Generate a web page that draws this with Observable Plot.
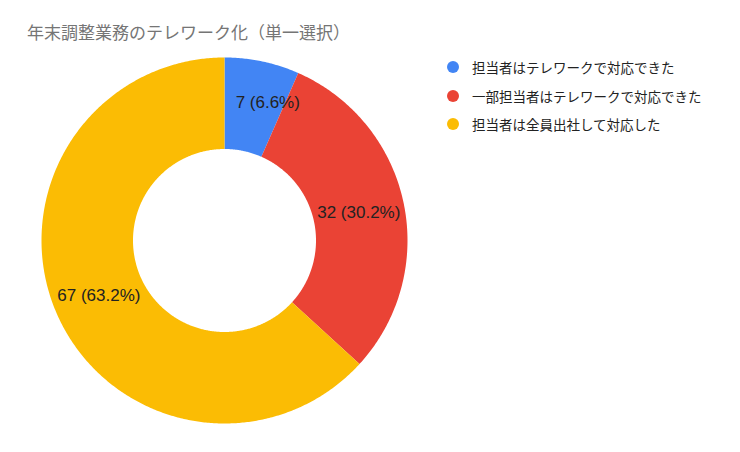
<!DOCTYPE html>
<html>
<head>
<meta charset="utf-8">
<script src="https://cdn.jsdelivr.net/npm/d3@7"></script>
<script src="https://cdn.jsdelivr.net/npm/@observablehq/plot@0.6"></script>
<style>
  html, body { margin: 0; padding: 0; background: #fff; }
  #wrap { position: relative; width: 740px; height: 452px; overflow: hidden; font-family: "Noto Sans CJK JP", "Noto Sans", sans-serif; }
  #title { position: absolute; left: 27px; top: 19px; font-size: 17px; color: #757575; white-space: nowrap; }
  #legend { position: absolute; left: 447px; top: 53px; }
  .item { display: flex; align-items: center; height: 28.5px; font-size: 13.5px; color: #222; white-space: nowrap; }
  .sw { width: 12px; height: 12px; border-radius: 50%; margin-right: 13px; }
  #chart { position: absolute; left: 0; top: 0; }
</style>
</head>
<body>
<div id="wrap">
  <div id="chart"></div>
  <div id="title"></div>
  <div id="legend"></div>
</div>
<script>
const title = "年末調整業務のテレワーク化（単一選択）";
const categories = ["担当者はテレワークで対応できた", "一部担当者はテレワークで対応できた", "担当者は全員出社して対応した"];
const values = [7, 32, 67];
const colors = ["#4285F4", "#EA4335", "#FBBC04"];

const data = categories.map((c, i) => ({category: c, value: values[i]}));
const total = d3.sum(values);
const pct = d3.format(".1%");
const arcs = d3.pie().sort(null).value(d => d.value)(data);

const inner = 0.5;
function ring(a0, a1) {
  const n = Math.max(2, Math.ceil((a1 - a0) / (Math.PI / 360)));
  const pts = [];
  for (let k = 0; k <= n; k++) { const a = a0 + (a1 - a0) * k / n; pts.push([Math.sin(a), -Math.cos(a)]); }
  for (let k = n; k >= 0; k--) { const a = a0 + (a1 - a0) * k / n; pts.push([inner * Math.sin(a), -inner * Math.cos(a)]); }
  pts.push(pts[0]);
  return pts;
}
const features = arcs.map(a => ({
  type: "Feature",
  properties: {category: a.data.category},
  geometry: {type: "Polygon", coordinates: [ring(a.startAngle, a.endAngle)]}
}));
const labels = arcs.map(a => {
  const m = (a.startAngle + a.endAngle) / 2, r = 0.75;
  return {x: r * Math.sin(m), y: -r * Math.cos(m), small: a.data.value / total < 0.1,
          text: `${a.data.value} (${pct(a.data.value / total)})`};
});

const proj = d3.geoIdentity().scale(183).translate([224, 240]);
const labelFont = "'Liberation Sans', Arial, sans-serif";

const chart = Plot.plot({
  width: 740,
  height: 452,
  margin: 0,
  projection: proj,
  color: {domain: categories, range: colors},
  marks: [
    Plot.geo(features, {fill: d => d.properties.category}),
    Plot.text(labels.filter(d => !d.small), {x: "x", y: "y", text: "text", fill: "#222", fontSize: 17, fontFamily: labelFont}),
    Plot.text(labels.filter(d => d.small), {x: "x", y: "y", text: "text", fill: "#222", fontSize: 17, fontFamily: labelFont, dx: 15, dy: -4})
  ]
});
document.getElementById("chart").appendChild(chart);
document.getElementById("title").textContent = title;
const lg = document.getElementById("legend");
categories.forEach((c, i) => {
  const it = document.createElement("div"); it.className = "item";
  const sw = document.createElement("div"); sw.className = "sw"; sw.style.background = colors[i];
  const tx = document.createElement("span"); tx.textContent = c;
  it.appendChild(sw); it.appendChild(tx); lg.appendChild(it);
});
</script>
</body>
</html>
